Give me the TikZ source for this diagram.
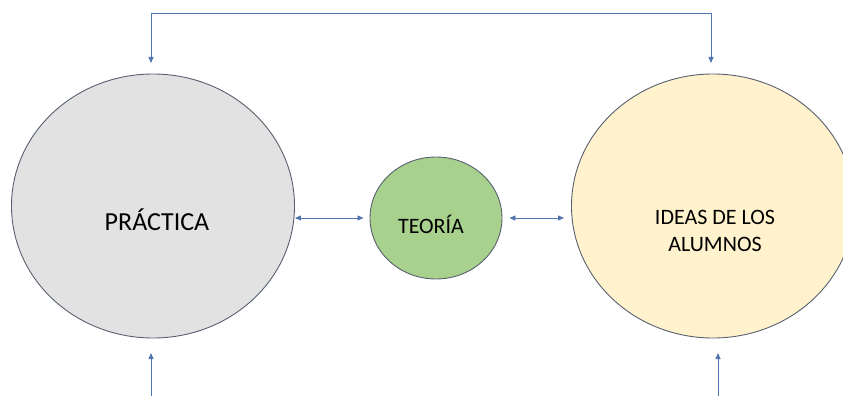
\documentclass[tikz,border=0pt]{standalone}
\usepackage{fontspec}
\setmainfont{Carlito}
\usepackage{tikz}
\usetikzlibrary{shapes.geometric,arrows.meta}

\definecolor{linkblue}{RGB}{84,116,176}
\definecolor{rimgray}{RGB}{88,96,112}
\definecolor{practicafill}{RGB}{226,226,226}
\definecolor{teoriafill}{RGB}{169,209,142}
\definecolor{ideasfill}{RGB}{255,242,204}

\tikzset{
  blob/.style={ellipse, draw=rimgray, line width=0.9pt, inner sep=0pt},
  bigblob/.style={blob, minimum width=283pt, minimum height=264pt},
  smallblob/.style={blob, minimum width=132pt, minimum height=122pt},
  blobtext/.style={align=center, font=\fontsize{22}{27}\selectfont},
  flow/.style={draw=linkblue, line width=0.8pt, arrows={-{Triangle[length=6pt,width=5pt]}}},
  twoway/.style={flow, arrows={{Triangle[length=6pt,width=5pt]}-{Triangle[length=6pt,width=5pt]}}}
}

\begin{document}
\begin{tikzpicture}[x=1pt,y=-1pt]
  \useasboundingbox (0,0) rectangle (843,396);

  \node[bigblob, fill=practicafill] (practica) at (153,206) {};
  \node[bigblob, fill=ideasfill] (ideas) at (713,206) {};
  \node[smallblob, fill=teoriafill] (teoria) at (436,218) {};

  \node[blobtext, font=\fontsize{26}{31}\selectfont] (practicatext) at (157,220) {PRÁCTICA};
  \node[blobtext] (teoriatext) at (431,224) {TEORÍA};
  \node[blobtext] (ideastext) at (715,231) {IDEAS DE LOS\\ALUMNOS};

  \draw[twoway] (practica.east |- teoria.west) -- ([xshift=-6pt]teoria.west);
  \draw[twoway] ([xshift=7pt]teoria.east) -- ([xshift=-7pt]ideas.west |- teoria.east);

  \coordinate (topleft) at (151,63);
  \coordinate (topright) at (711,63);
  \draw[twoway] (topleft) -- (151,13) -- (711,13) -- (topright);

  \coordinate (botleft) at (151,396);
  \coordinate (botright) at (718,396);
  \draw[flow] (botleft) -- (151,353);
  \draw[flow] (botright) -- (718,353);
\end{tikzpicture}
\end{document}
